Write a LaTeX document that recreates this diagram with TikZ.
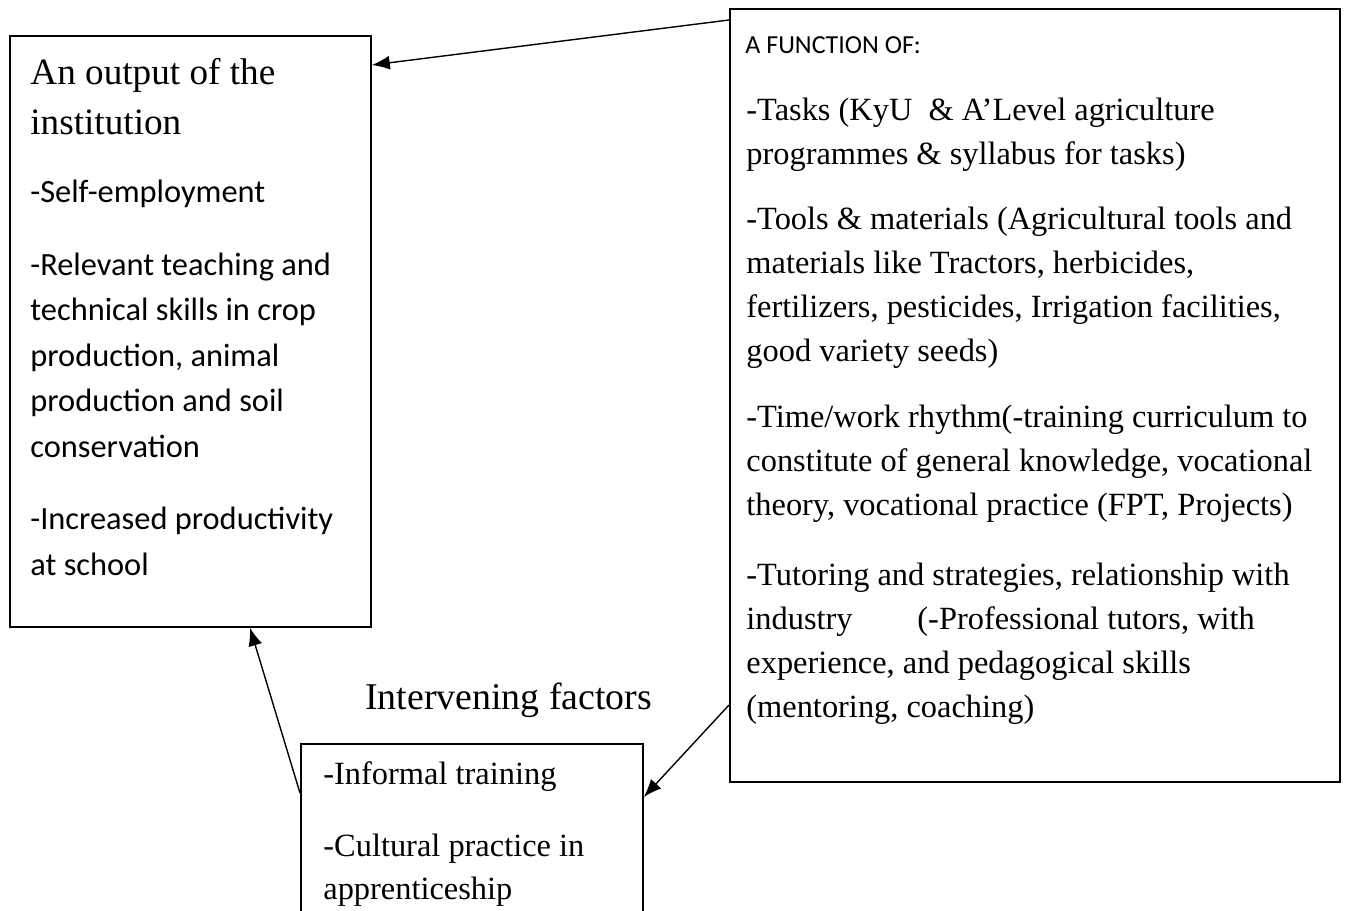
\documentclass[tikz,border=0pt]{standalone}
\usepackage{fontspec}
\setmainfont{Liberation Serif}
\newfontfamily\calib{Carlito}
\usetikzlibrary{arrows.meta}
\tikzset{
  box/.style={draw,line width=0.9pt,inner sep=0pt,anchor=north west},
  txt/.style={inner sep=0pt,anchor=north west,align=flush left},
  con/.style={line width=0.7pt,-{Latex[length=9pt,width=7pt]}}
}
\begin{document}
\begin{tikzpicture}[x=0.5pt,y=-0.5pt]
\useasboundingbox (0,0) rectangle (1347,910);
% the three boxes
\node[box,minimum width=180.5pt,minimum height=295.5pt] (output) at (9,35) {};
\node[box,minimum width=305pt,minimum height=386.5pt] (function) at (729,8) {};
\node[box,minimum width=171pt,minimum height=90pt] (intervening) at (300,743) {};
% texts
\node[txt,text width=175pt,font=\fontsize{18.6}{25}\selectfont] (outtitle) at (30,58) {An output of the\\institution};
\node[txt,text width=175pt,font=\calib\fontsize{16.2}{22.75}\selectfont] (outlist) at (30,180) {-Self-employment\\[13.5pt]
-Relevant teaching and\\
technical skills in crop\\
production, animal\\
production and soil\\
conservation\\[13.5pt]
-Increased productivity\\
at school};
\node[txt,anchor=base west,font=\calib\fontsize{13}{16}\selectfont] (funtitle) at (745,53) {A FUNCTION OF:};
\node[txt,text width=295pt,font=\fontsize{16.2}{22}\selectfont] (funlist) at (746,98) {-Tasks (KyU\ \ \& A’Level agriculture\\
programmes \& syllabus for tasks)\\[10.5pt]
-Tools \& materials (Agricultural tools and\\
materials like Tractors, herbicides,\\
fertilizers, pesticides, Irrigation facilities,\\
good variety seeds)\\[11pt]
-Time/work rhythm(-training curriculum to\\
constitute of general knowledge, vocational\\
theory, vocational practice (FPT, Projects)\\[13pt]
-Tutoring and strategies, relationship with\\
industry\hspace{2em}(-Professional tutors, with\\
experience, and pedagogical skills\\
(mentoring, coaching)};
\node[txt,anchor=base west,font=\fontsize{18.9}{24}\selectfont] (intlabel) at (365,709) {Intervening factors};
\node[txt,text width=155pt,font=\fontsize{16.2}{21.5}\selectfont] (intlist) at (323,761) {-Informal training\\[14.5pt]
-Cultural practice in\\
apprenticeship};
% connectors
\draw[con] ([yshift=-6pt]function.north west) -- ([yshift=-15pt]output.north east);
\draw[con] ([yshift=-25pt]intervening.north west) -- ([xshift=120.5pt]output.south west);
\draw[con] ([yshift=-348.5pt]function.north west) -- ([yshift=-27pt]intervening.north east);
\end{tikzpicture}
\end{document}
